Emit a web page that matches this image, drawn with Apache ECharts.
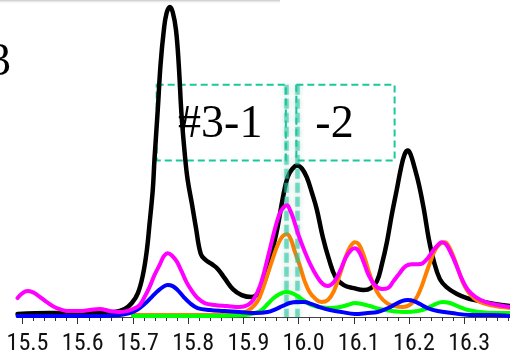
<!DOCTYPE html>
<html>
<head>
<meta charset="utf-8">
<script src="https://cdn.jsdelivr.net/npm/echarts@6/dist/echarts.min.js"></script>
<style>html,body{margin:0;padding:0;background:#fff}#c{width:510px;height:356px}</style>
</head>
<body>
<div id="c"></div>
<script>
// Retention time (min) vs. intensity (arbitrary units)
const majorTicks = [15.5, 15.6, 15.7, 15.8, 15.9, 16.0, 16.1, 16.2, 16.3];
const minorTicks = [15.52,15.54,15.56,15.58,15.62,15.64,15.66,15.68,15.72,15.74,15.76,15.78,15.82,15.84,15.86,15.88,15.92,15.94,15.96,15.98,16.02,16.04,16.06,16.08,16.12,16.14,16.16,16.18,16.22,16.24,16.26,16.28,16.32,16.34,16.36,16.38];

const black = [[15.491,3],[15.549,4],[15.622,4],[15.667,5],[15.685,8],[15.698,14],[15.709,24],[15.718,42],[15.725,66],[15.730,93],[15.736,128],[15.739,158],[15.745,208],[15.750,253],[15.756,288],[15.761,305],[15.767,311],[15.772,306],[15.778,288],[15.783,253],[15.788,203],[15.794,163],[15.799,138],[15.807,113],[15.814,90],[15.823,63],[15.832,57],[15.843,53],[15.854,48],[15.866,39],[15.881,28],[15.897,22],[15.915,20],[15.930,26],[15.941,40],[15.951,63],[15.962,90],[15.971,118],[15.980,140],[15.988,148],[15.997,152],[16.006,149],[16.015,140],[16.024,125],[16.033,108],[16.044,80],[16.055,58],[16.067,40],[16.082,32],[16.100,29],[16.118,27],[16.131,29],[16.142,36],[16.151,53],[16.160,75],[16.169,103],[16.178,128],[16.185,148],[16.192,163],[16.198,167],[16.203,163],[16.210,150],[16.218,133],[16.227,108],[16.236,78],[16.245,56],[16.256,38],[16.268,30],[16.287,23],[16.305,19],[16.328,16],[16.355,13],[16.383,11]];

const magenta = [[15.491,19],[15.500,24],[15.509,26],[15.518,25],[15.527,22],[15.544,15],[15.562,9],[15.585,6],[15.604,6],[15.622,7],[15.640,8],[15.658,6],[15.676,5],[15.689,6],[15.700,8],[15.712,12],[15.721,20],[15.730,30],[15.739,42],[15.749,53],[15.756,61],[15.763,64],[15.770,62],[15.779,56],[15.788,46],[15.797,35],[15.807,26],[15.817,19],[15.830,14],[15.848,12],[15.870,11],[15.893,10],[15.908,12],[15.919,18],[15.930,31],[15.939,48],[15.948,68],[15.957,88],[15.966,104],[15.973,110],[15.979,112],[15.984,108],[15.991,98],[16.000,82],[16.011,66],[16.022,52],[16.033,41],[16.044,33],[16.053,31],[16.064,35],[16.075,46],[16.085,59],[16.095,67],[16.102,69],[16.109,66],[16.118,55],[16.127,42],[16.138,32],[16.151,28],[16.162,29],[16.172,36],[16.183,44],[16.194,51],[16.205,53],[16.216,53],[16.225,54],[16.234,59],[16.243,66],[16.252,72],[16.259,75],[16.267,73],[16.276,64],[16.285,53],[16.296,38],[16.307,27],[16.321,20],[16.339,15],[16.361,12],[16.383,10]];

const orange = [[15.700,2],[15.785,2],[15.875,2],[15.903,5],[15.915,9],[15.926,16],[15.935,28],[15.944,43],[15.953,58],[15.962,72],[15.971,81],[15.979,83],[15.986,78],[15.993,66],[16.002,52],[16.011,36],[16.020,25],[16.031,18],[16.042,15],[16.053,17],[16.064,26],[16.075,43],[16.084,58],[16.093,70],[16.102,75],[16.109,73],[16.118,62],[16.127,46],[16.136,32],[16.147,21],[16.160,14],[16.174,11],[16.189,10],[16.201,12],[16.212,18],[16.221,28],[16.230,42],[16.239,56],[16.248,68],[16.258,74],[16.265,75],[16.272,71],[16.281,60],[16.290,46],[16.299,33],[16.310,23],[16.325,16],[16.346,12],[16.383,9]];

const green = [[15.700,1],[15.821,1],[15.903,2],[15.921,4],[15.933,7],[15.944,13],[15.955,19],[15.966,23],[15.977,25],[15.988,24],[15.998,21],[16.011,16],[16.024,12],[16.038,10],[16.057,9],[16.075,10],[16.089,12],[16.102,14],[16.115,13],[16.129,11],[16.147,8],[16.169,6],[16.192,5],[16.216,6],[16.234,9],[16.248,13],[16.261,15],[16.274,14],[16.288,11],[16.307,7],[16.328,5],[16.355,4],[16.383,4]];

const blue = [[15.491,1],[15.567,1],[15.640,1],[15.676,2],[15.694,4],[15.707,7],[15.721,13],[15.734,20],[15.745,26],[15.754,30],[15.763,32],[15.772,31],[15.781,27],[15.792,20],[15.803,14],[15.817,9],[15.839,7],[15.866,6],[15.893,5],[15.921,4],[15.944,5],[15.959,8],[15.971,11],[15.984,14],[15.997,15],[16.009,15],[16.024,13],[16.038,10],[16.057,7],[16.078,5],[16.102,3],[16.125,4],[16.143,5],[16.162,9],[16.176,13],[16.187,16],[16.198,17],[16.209,16],[16.220,13],[16.234,9],[16.252,6],[16.277,4],[16.310,2],[16.346,2],[16.383,1]];

// Annotation boxes: [xStart, xEnd, yBottom, yTop, label]
const boxes = [[15.743, 15.977, 157, 233, '#3-1'], [15.996, 16.174, 157, 233, '-2']];
const cutLines = [15.978, 15.997];

const X_MIN = 15.49, X_MAX = 16.383;
const TEAL = '#19c99b';
const SERIF = 'Liberation Serif';

const chart = echarts.init(document.getElementById('c'), null, {renderer: 'canvas'});

function lineSeries(name, data, color, width, z) {
  return {
    name, type: 'line', data, smooth: 0.4, symbol: 'none', z,
    lineStyle: {color, width, join: 'round', cap: 'round'},
    itemStyle: {color}, animation: false, clip: true
  };
}

const series = [
  lineSeries('black', black, '#000000', 4.5, 3),
  lineSeries('orange', orange, '#ff8000', 4, 4),
  lineSeries('green', green, '#00ff00', 4, 5),
  lineSeries('blue', blue, '#0000ff', 4, 6),
  lineSeries('magenta', magenta, '#ff00ff', 4, 7),
  {
    type: 'line', data: [], z: 10, animation: false,
    markArea: {
      silent: true,
      itemStyle: {color: 'rgba(0,0,0,0)', borderColor: TEAL, borderWidth: 2, borderType: [7, 4]},
      label: {show: true, position: 'inside', color: '#000', fontFamily: SERIF, fontSize: 46},
      data: boxes.map((b, i) => [
        {coord: [b[0], b[3]], name: b[4], label: {offset: i === 1 ? [-11, 2] : [-1, 2]}},
        {coord: [b[1], b[2]]}
      ])
    },
    markLine: {
      silent: true, symbol: ['none', 'none'],
      lineStyle: {color: 'rgba(40,200,160,0.6)', width: 4.5, type: [10, 4], shadowBlur: 5, shadowColor: 'rgba(0,140,110,0.45)'},
      label: {show: false},
      data: cutLines.map(v => [{coord: [v, 233]}, {coord: [v, 0]}])
    }
  }
];

chart.setOption({
  animation: false,
  backgroundColor: '#ffffff',
  grid: {left: 17, right: 0, top: 0, bottom: 38, containLabel: false},
  xAxis: [
    {
      type: 'value', min: X_MIN, max: X_MAX, position: 'bottom',
      axisLine: {show: true, onZero: false, lineStyle: {color: '#444', width: 1}},
      axisTick: {show: true, length: 7, inside: false, lineStyle: {color: '#333', width: 1}, customValues: majorTicks},
      axisLabel: {
        show: true, customValues: majorTicks, margin: 15,
        formatter: v => v.toFixed(1),
        fontFamily: 'Roboto Condensed',
        fontSize: 24, color: '#111', padding: [0, 0, 0, 10]
      },
      splitLine: {show: false}, minorTick: {show: false}
    },
    {
      type: 'value', min: X_MIN, max: X_MAX, position: 'bottom',
      axisLine: {show: false},
      axisTick: {show: true, length: 4, lineStyle: {color: '#333', width: 1}, customValues: minorTicks},
      axisLabel: {show: false},
      splitLine: {show: false}
    }
  ],
  yAxis: {type: 'value', min: 0, max: 318, show: false, splitLine: {show: false}},
  graphic: [
    {type: 'rect', left: 0, top: 0, shape: {x: 0, y: 0, width: 280, height: 4},
     style: {fill: new echarts.graphic.LinearGradient(0, 0, 0, 1, [{offset: 0, color: '#c4c4c4'}, {offset: 1, color: 'rgba(255,255,255,0)'}])}, z: 20},
    {type: 'text', x: 11, y: 63, z: 20,
     style: {text: '3', fill: '#000', fontFamily: SERIF, fontSize: 46, align: 'right', verticalAlign: 'middle'}}
  ],
  series
});
</script>
</body>
</html>
